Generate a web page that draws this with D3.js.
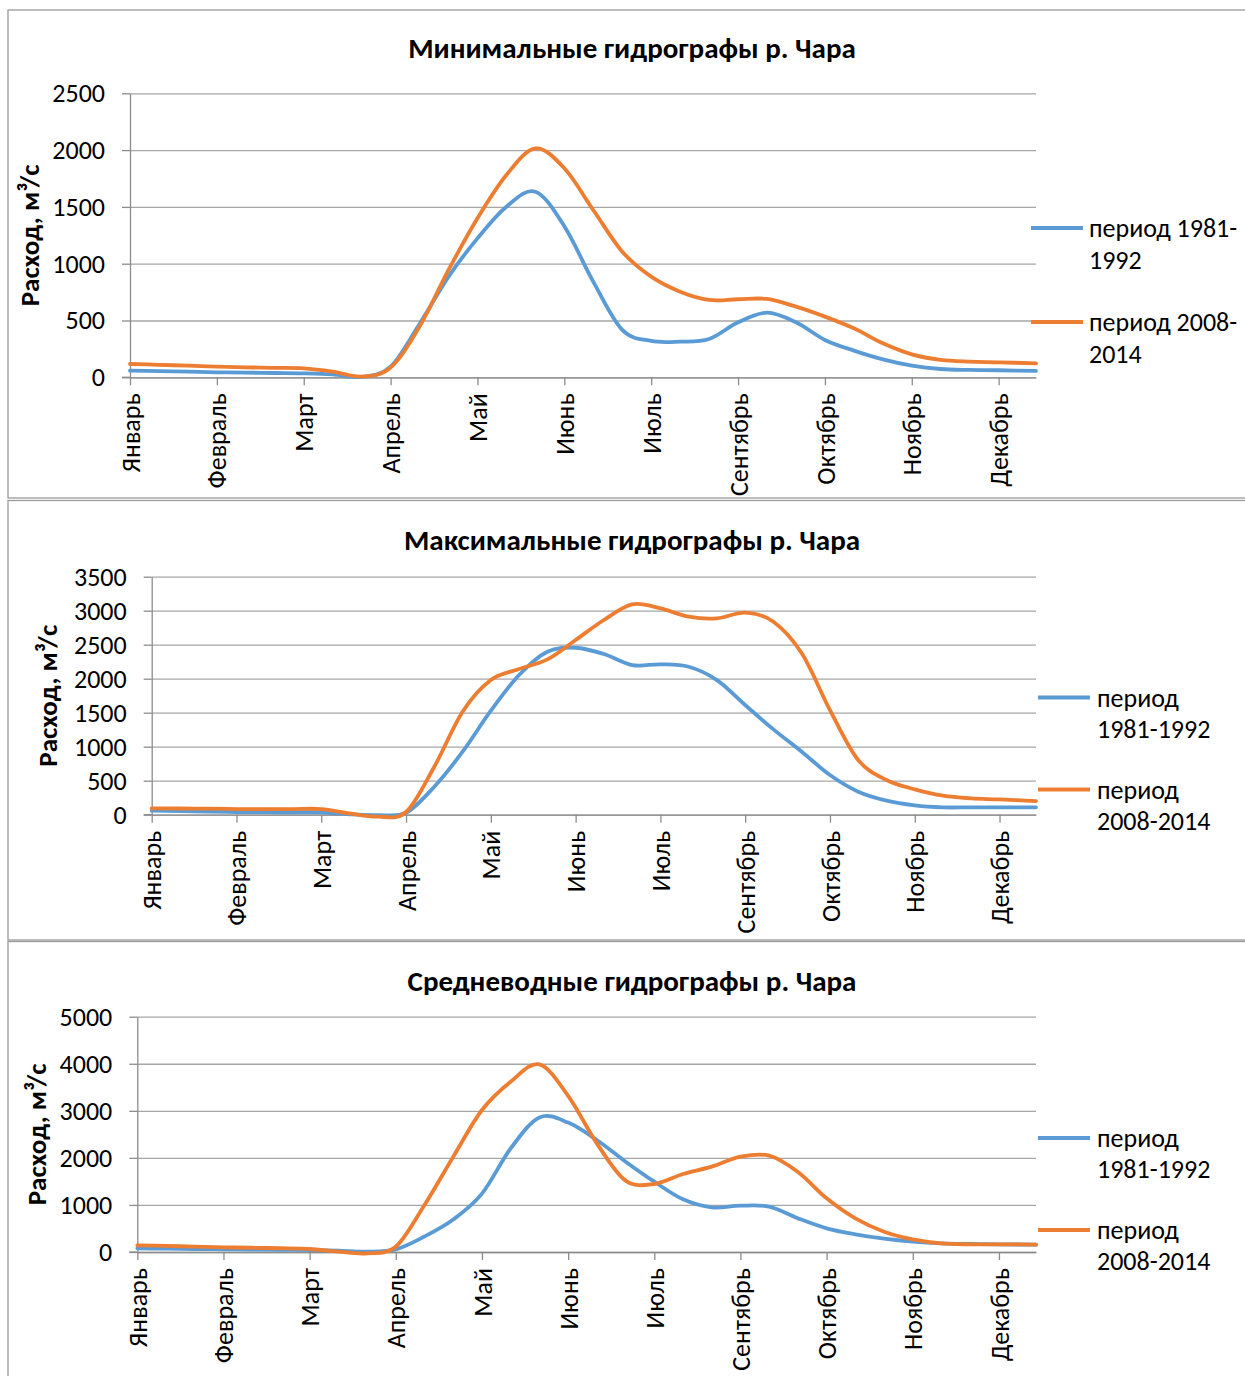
<!DOCTYPE html>
<html><head><meta charset="utf-8">
<script src="https://cdn.jsdelivr.net/npm/d3@7"></script>
<style>
body{margin:0;background:#fff;}
text{font-family:Carlito, Lato, sans-serif;fill:#000;}
</style>
</head><body>
<svg id="c" width="1245" height="1376"></svg>
<script>
// ---------- DATA ----------
const months = ["Январь","Февраль","Март","Апрель","Май","Июнь","Июль","Сентябрь","Октябрь","Ноябрь","Декабрь"];
// sample positions along the axis, in units of month-label intervals
const positions = [0,0.333,0.667,1,1.333,1.667,2,2.333,2.667,3,3.333,3.667,4,4.333,4.667,5,5.333,5.667,6,6.333,6.667,7,7.333,7.667,8,8.333,8.667,9,9.333,9.667,10,10.43];
const seriesNames = ["период 1981-1992","период 2008-2014"];
const titles = ["Минимальные гидрографы р. Чара","Максимальные гидрографы р. Чара","Средневодные гидрографы р. Чара"];
const yTitle = "Расход, м³/с";

const minP1 = [59,55,50,44,41,38,35,26,3,94,470,886,1223,1502,1634,1330,842,417,320,314,337,484,569,484,329,235,158,103,73,65,62,56];
const minP2 = [117,110,102,94,88,83,79,50,6,85,446,945,1400,1781,2015,1840,1473,1106,886,754,681,687,690,622,534,431,299,202,153,138,132,123];
const maxP1 = [59,52,45,39,37,35,34,5,-5,29,412,926,1529,2054,2397,2455,2363,2201,2211,2176,1980,1613,1255,926,583,338,206,137,108,108,108,108];
const maxP2 = [93,91,88,83,83,83,83,20,-29,40,706,1515,1980,2142,2284,2569,2863,3093,3034,2912,2887,2971,2838,2373,1539,804,510,373,279,240,225,201];
const midP1 = [78,72,64,57,53,47,42,28,7,57,330,690,1240,2200,2860,2750,2380,1919,1494,1119,949,984,963,715,503,375,283,220,184,170,163,156];
const midP2 = [142,130,115,99,90,80,64,7,-28,113,999,2025,3017,3619,3987,3320,2309,1516,1445,1657,1813,2025,2047,1700,1140,715,432,269,184,163,163,156];

const yTicks1 = [0,500,1000,1500,2000,2500];
const yTicks2 = [0,500,1000,1500,2000,2500,3000,3500];
const yTicks3 = [0,1000,2000,3000,4000,5000];

// ---------- LAYOUT ----------
const colors = ["#5B9BD5","#ED7D31"];
const gridColor = "#a6a6a6";
const axisColor = "#8c8c8c";
const FS = 26;

const panels = [
  {title:titles[0], series:[minP1,minP2], ticks:yTicks1,
   box:{y:10,h:488}, titleY:58, left:130, right:1036, top:93.3, bottom:377.3, yTitleX:30,
   legend:{x1:1031,x2:1083,tx:1089, ys:[228,322], wrap:"dash", lh:32}},
  {title:titles[1], series:[maxP1,maxP2], ticks:yTicks2,
   box:{y:500.5,h:439.5}, titleY:550, left:151.7, right:1036, top:576.7, bottom:814.7, yTitleX:48,
   legend:{x1:1038,x2:1090,tx:1097, ys:[697.5,789.5], wrap:"space", lh:31}},
  {title:titles[2], series:[midP1,midP2], ticks:yTicks3,
   box:{y:941.5,h:460}, titleY:991, left:137.3, right:1036, top:1016.7, bottom:1252, yTitleX:37,
   legend:{x1:1038,x2:1090,tx:1097, ys:[1138,1230], wrap:"space", lh:31}}
];

const svg = d3.select("#c");

function wrapName(name, mode){
  if(mode==="dash"){ const i=name.indexOf("-"); return [name.slice(0,i+1), name.slice(i+1)]; }
  const i=name.indexOf(" "); return [name.slice(0,i), name.slice(i+1)];
}

panels.forEach(p=>{
  // panel border
  svg.append("rect").attr("x",8).attr("y",p.box.y).attr("width",1260).attr("height",p.box.h)
     .attr("fill","none").attr("stroke","#9a9a9a").attr("stroke-width",1.3);

  const x = d3.scaleLinear().domain([0,10.43]).range([p.left,p.right]);
  const y = d3.scaleLinear().domain([0,d3.max(p.ticks)]).range([p.bottom,p.top]);
  const g = svg.append("g");

  // gridlines
  g.append("g").attr("transform",`translate(${p.left},0)`)
   .call(d3.axisLeft(y).tickValues(p.ticks).tickSize(-(p.right-p.left)).tickFormat(""))
   .call(s=>{s.select(".domain").remove(); s.selectAll("line").attr("stroke",gridColor).attr("stroke-width",1.3);});

  // y axis
  g.append("g").attr("transform",`translate(${p.left},0)`)
   .call(d3.axisLeft(y).tickValues(p.ticks).tickFormat(d3.format("d")).tickSize(8).tickSizeOuter(0).tickPadding(17))
   .call(s=>{
     s.select(".domain").attr("stroke",axisColor).attr("stroke-width",1.3);
     s.selectAll("line").attr("stroke",axisColor).attr("stroke-width",1.3);
     s.selectAll("text").attr("font-size",FS).attr("font-family","Carlito, Lato, sans-serif").attr("fill","#000");
   });

  // x axis
  g.append("g").attr("transform",`translate(0,${p.bottom})`)
   .call(d3.axisBottom(x).tickValues(d3.range(months.length)).tickFormat(i=>months[i]).tickSize(8).tickSizeOuter(0))
   .call(s=>{
     s.select(".domain").attr("stroke",axisColor).attr("stroke-width",1.3);
     s.selectAll("line").attr("stroke",axisColor).attr("stroke-width",1.3);
     s.selectAll("text").attr("font-size",FS).attr("font-family","Carlito, Lato, sans-serif").attr("fill","#000")
      .attr("transform","rotate(-90)").attr("text-anchor","end").attr("x",-16).attr("y",0).attr("dy","0.35em");
   });
  g.append("line").attr("x1",p.left-8).attr("x2",p.left).attr("y1",p.bottom).attr("y2",p.bottom)
   .attr("stroke",axisColor).attr("stroke-width",1.3);

  // lines
  const line = d3.line().x((d,i)=>x(positions[i])).y(d=>y(d)).curve(d3.curveCardinal.tension(0));
  p.series.forEach((s,k)=>{
    g.append("path").datum(s).attr("d",line).attr("fill","none")
     .attr("stroke",colors[k]).attr("stroke-width",3.8).attr("stroke-linecap","round").attr("stroke-linejoin","round");
  });

  // title
  svg.append("text").attr("x",632).attr("y",p.titleY).attr("text-anchor","middle")
     .attr("font-size",29).attr("font-weight","bold").text(p.title);

  // y title
  svg.append("text").attr("transform",`translate(${p.yTitleX},${(p.top+p.bottom)/2}) rotate(-90)`)
     .attr("text-anchor","middle").attr("dy","0.35em").attr("font-size",27).attr("font-weight","bold").text(yTitle);

  // legend
  seriesNames.forEach((name,k)=>{
    const ly = p.legend.ys[k];
    svg.append("line").attr("x1",p.legend.x1).attr("x2",p.legend.x2).attr("y1",ly).attr("y2",ly)
       .attr("stroke",colors[k]).attr("stroke-width",3.8);
    const parts = wrapName(name,p.legend.wrap);
    parts.forEach((t,j)=>{
      svg.append("text").attr("x",p.legend.tx).attr("y",ly + j*p.legend.lh).attr("dy","0.35em")
         .attr("font-size",FS).text(t);
    });
  });
});
</script>
</body></html>
